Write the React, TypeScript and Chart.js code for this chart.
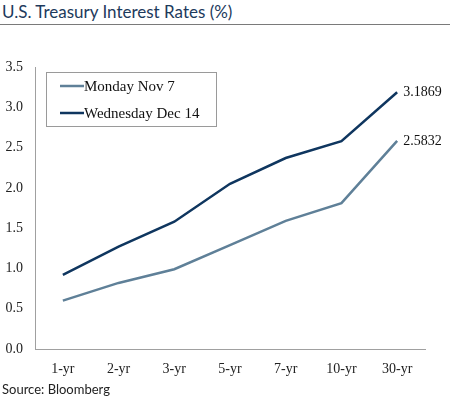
import React, { useEffect, useRef } from "react";
import { Chart, registerables } from "chart.js";

Chart.register(...registerables);

const categories = ["1-yr", "2-yr", "3-yr", "5-yr", "7-yr", "10-yr", "30-yr"];
const mondayNov7 = [0.6, 0.82, 0.99, 1.29, 1.59, 1.81, 2.5832];
const wednesdayDec14 = [0.92, 1.27, 1.58, 2.05, 2.37, 2.58, 3.1869];
const seriesNames = ["Monday Nov 7", "Wednesday Dec 14"];
const seriesColors = ["#5f8098", "#0f365f"];

const SERIF = "'Liberation Serif', 'Times New Roman', serif";

const legendAndLabels = {
  id: "legendAndLabels",
  afterDatasetsDraw(chart: any) {
    const ctx = chart.ctx;
    const area = chart.chartArea;
    ctx.save();
    // end labels
    ctx.font = `14px ${SERIF}`;
    ctx.fillStyle = "#111";
    ctx.textAlign = "left";
    ctx.textBaseline = "middle";
    chart.data.datasets.forEach((ds: any, i: number) => {
      const meta = chart.getDatasetMeta(i);
      const last = meta.data[meta.data.length - 1];
      const v = ds.data[ds.data.length - 1];
      ctx.fillText(String(v), last.x + 6, last.y);
    });
    // legend box
    const bx = area.left + 11;
    const by = area.top + 5;
    const bw = 170;
    const bh = 54;
    ctx.strokeStyle = "#9a9a9a";
    ctx.lineWidth = 1;
    ctx.strokeRect(bx + 0.5, by + 0.5, bw, bh);
    ctx.font = `15px ${SERIF}`;
    chart.data.datasets.forEach((ds: any, i: number) => {
      const y = by + 14 + i * 27;
      ctx.strokeStyle = ds.borderColor;
      ctx.lineWidth = 2.5;
      ctx.beginPath();
      ctx.moveTo(bx + 14, y);
      ctx.lineTo(bx + 38, y);
      ctx.stroke();
      ctx.fillStyle = "#111";
      ctx.fillText(ds.label, bx + 38, y + 1);
    });
    ctx.restore();
  },
};

export default function App() {
  const ref = useRef<HTMLCanvasElement>(null);
  useEffect(() => {
    if (!ref.current) return;
    const chart = new Chart(ref.current, {
      type: "line",
      data: {
        labels: categories,
        datasets: [
          {
            label: seriesNames[0],
            data: mondayNov7,
            borderColor: seriesColors[0],
            backgroundColor: seriesColors[0],
            borderWidth: 2.5,
            pointRadius: 0,
            tension: 0,
          },
          {
            label: seriesNames[1],
            data: wednesdayDec14,
            borderColor: seriesColors[1],
            backgroundColor: seriesColors[1],
            borderWidth: 2.5,
            pointRadius: 0,
            tension: 0,
          },
        ],
      },
      options: {
        animation: false,
        responsive: false,
        maintainAspectRatio: false,
        layout: { padding: { left: 0, top: 67, right: 25, bottom: 0 } },
        plugins: {
          legend: { display: false },
          tooltip: { enabled: false },
          title: { display: false },
        },
        scales: {
          x: {
            offset: true,
            grid: { display: false, drawTicks: false },
            border: { display: true, color: "#a0a0a0", width: 1 },
            ticks: {
              color: "#222",
              font: { family: SERIF, size: 14 },
              padding: 12,
              maxRotation: 0,
              autoSkip: false,
            },
            afterFit(scale: any) {
              scale.height = 50;
            },
          },
          y: {
            min: 0,
            max: 3.5,
            grid: { display: false, drawTicks: false },
            border: { display: true, color: "#a0a0a0", width: 1 },
            ticks: {
              stepSize: 0.5,
              color: "#222",
              font: { family: SERIF, size: 14 },
              padding: 12,
              callback: (v: any) => Number(v).toFixed(1),
            },
            afterFit(scale: any) {
              scale.width = 35;
            },
          },
        },
      },
      plugins: [legendAndLabels],
    });
    return () => chart.destroy();
  }, []);

  return (
    <div style={{ position: "fixed", left: 0, top: 0, width: 450, height: 399, background: "#fff", overflow: "hidden" }}>
      <div
        style={{
          position: "absolute",
          left: 2,
          top: 1,
          fontFamily: "Lato, 'Open Sans', sans-serif",
          fontSize: 17,
          color: "#1d3a5c",
          whiteSpace: "nowrap",
        }}
      >
        U.S. Treasury Interest Rates (%)
      </div>
      <div style={{ position: "absolute", left: 0, top: 24, width: 450, height: 1, background: "#7a7a7a" }} />
      <canvas ref={ref} width={450} height={399} style={{ position: "absolute", left: 0, top: 0 }} />
      <div
        style={{
          position: "absolute",
          left: 2,
          top: 381,
          fontFamily: "Lato, 'Open Sans', sans-serif",
          fontSize: 13,
          color: "#222",
          whiteSpace: "nowrap",
        }}
      >
        Source: Bloomberg
      </div>
    </div>
  );
}
